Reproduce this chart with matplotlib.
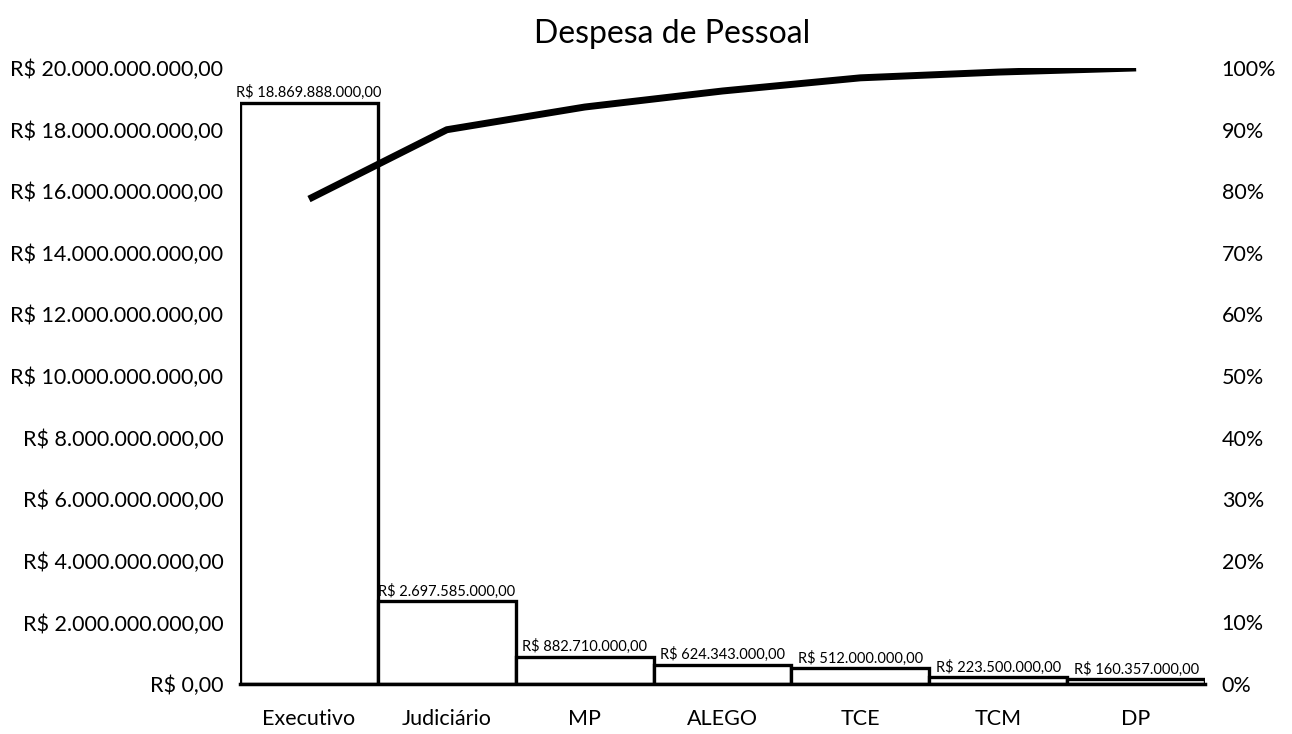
import matplotlib
matplotlib.use("Agg")
import matplotlib.pyplot as plt
from matplotlib.ticker import FuncFormatter, MultipleLocator

plt.rcParams['font.family'] = ['Lato', 'DejaVu Sans']

orgaos = ["Executivo", "Judiciário", "MP", "ALEGO", "TCE", "TCM", "DP"]
despesa = [18869888000, 2697585000, 882710000, 624343000,
           512000000, 223500000, 160357000]


def reais(v, pos=None):
    s = f"{v:,.2f}"
    s = s.replace(",", "X").replace(".", ",").replace("X", ".")
    return "R$ " + s


total = sum(despesa)
acum = []
soma = 0
for v in despesa:
    soma += v
    acum.append(soma / total * 100)

fig = plt.figure(figsize=(12.92, 7.34), dpi=100)
ax = fig.add_axes([0.1858, 0.0681, 0.7469, 0.8393])
x = list(range(len(orgaos)))

ax.bar(x, despesa, width=1.0, color="white", edgecolor="black",
       linewidth=2.4, zorder=2)
for xi, v in zip(x, despesa):
    ax.text(xi, v + 80000000, reais(v), ha="center", va="bottom",
            fontsize=10.5, zorder=4)

ax.set_xlim(-0.5, 6.5)
ax.set_ylim(0, 20000000000)
ax.yaxis.set_major_locator(MultipleLocator(2000000000))
ax.yaxis.set_major_formatter(FuncFormatter(reais))
ax.set_xticks(x)
ax.set_xticklabels(orgaos)
ax.tick_params(axis="both", length=0, labelsize=15.5)
ax.tick_params(axis="x", pad=18)
ax.tick_params(axis="y", pad=12)
for side in ["top", "right", "left"]:
    ax.spines[side].set_visible(False)
ax.spines["bottom"].set_linewidth(2.5)

ax2 = ax.twinx()
ax2.plot(x, acum, color="black", linewidth=5, solid_capstyle="butt",
         zorder=3)
ax2.set_ylim(0, 100)
ax2.yaxis.set_major_locator(MultipleLocator(10))
ax2.yaxis.set_major_formatter(FuncFormatter(lambda v, p: f"{v:.0f}%"))
ax2.tick_params(axis="y", length=0, labelsize=15.5, pad=12)
for side in ["top", "right", "left", "bottom"]:
    ax2.spines[side].set_visible(False)

fig.text(0.52, 0.953, "Despesa de Pessoal", ha="center", va="center",
         fontsize=23)

fig.savefig("out.png", dpi=100, facecolor="white")
